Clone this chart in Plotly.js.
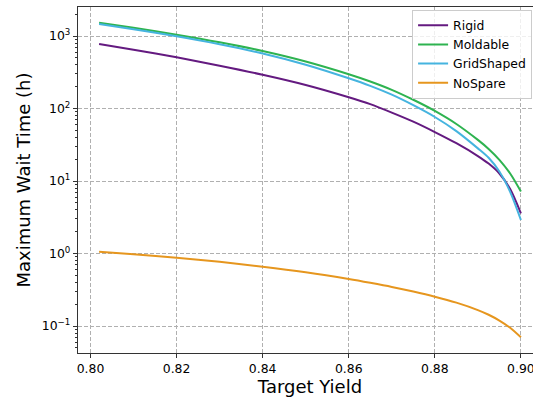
<!DOCTYPE html>
<html>
<head>
<meta charset="utf-8">
<script src="https://cdn.plot.ly/plotly-3.0.1.min.js"></script>
<style>
html,body{margin:0;padding:0;overflow:hidden;background:#fff;}
#chart{width:545px;height:398px;}
</style>
</head>
<body>
<div id="chart"></div>
<script>
const targetYield = [0.802, 0.81, 0.82, 0.83, 0.84, 0.85, 0.86, 0.865, 0.87, 0.875, 0.88, 0.885, 0.89, 0.8925, 0.895, 0.8975, 0.9];
const rigid      = [776, 647, 508, 389, 292, 211, 143, 115, 87.9, 65.9, 47.4, 33.2, 22.1, 17.4, 12.7, 7.76, 3.58];
const moldable   = [1524, 1297, 1042, 818, 621, 445, 297, 236, 181, 132, 92.7, 61.2, 36.9, 27.7, 19.6, 12.7, 7.16];
const gridShaped = [1466, 1242, 991, 769, 574, 402, 261, 205, 155, 111, 76.4, 48.8, 28.2, 20.9, 13.5, 7.10, 2.90];
const noSpare    = [1.059, 0.977, 0.875, 0.767, 0.658, 0.551, 0.445, 0.394, 0.346, 0.299, 0.254, 0.210, 0.166, 0.143, 0.119, 0.0946, 0.0698];

const seriesNames = ['Rigid', 'Moldable', 'GridShaped', 'NoSpare'];
const seriesColors = ['#641a80', '#2eb350', '#45b4df', '#e6961e'];
const seriesValues = [rigid, moldable, gridShaped, noSpare];

const xTickVals = [0.80, 0.82, 0.84, 0.86, 0.88, 0.90];
const xTickText = ['0.80', '0.82', '0.84', '0.86', '0.88', '0.90'];
const yTickVals = [0.1, 1, 10, 100, 1000];
const yTickText = ['10<sup>\u22121</sup>', '10<sup>0</sup>', '10<sup>1</sup>', '10<sup>2</sup>', '10<sup>3</sup>'];

const traces = seriesNames.map((n, i) => ({
  x: targetYield, y: seriesValues[i], name: n, type: 'scatter', mode: 'lines',
  line: {color: seriesColors[i], width: 2, shape: 'spline', smoothing: 0.8}
}));

const font = {family: 'DejaVu Sans, sans-serif', color: '#000'};
const layout = {
  width: 545, height: 398,
  margin: {l: 78, r: 3, t: 7, b: 45},
  paper_bgcolor: '#fff', plot_bgcolor: '#fff',
  font: Object.assign({size: 12.4}, font),
  showlegend: true,
  legend: {
    x: 0.72, xanchor: 'left', y: 0.992, yanchor: 'top',
    entrywidth: 86, entrywidthmode: 'pixels',
    bgcolor: 'rgba(255,255,255,0.8)', bordercolor: '#cccccc', borderwidth: 1,
    font: Object.assign({size: 12.4}, font)
  },
  xaxis: {
    range: [0.7971, 0.9049],
    tickvals: xTickVals, ticktext: xTickText,
    ticks: 'outside', ticklen: 4, tickcolor: '#333', tickwidth: 1,
    showline: true, mirror: true, linecolor: '#333', linewidth: 1.2,
    showgrid: true, gridcolor: '#b0b0b0', griddash: '4px,2px', gridwidth: 1,
    zeroline: false,
    tickfont: Object.assign({size: 12.4}, font),
    title: {text: 'Target Yield', font: Object.assign({size: 18}, font), standoff: 5}
  },
  yaxis: {
    type: 'log',
    range: [-1.372, 3.4],
    tickvals: yTickVals, ticktext: yTickText,
    ticks: 'outside', ticklen: 4, tickcolor: '#333', tickwidth: 1,
    minor: {ticks: 'outside', ticklen: 2, tickcolor: '#333', dtick: 'D1', showgrid: false},
    showline: true, mirror: true, linecolor: '#333', linewidth: 1.2,
    showgrid: true, gridcolor: '#b0b0b0', griddash: '4px,2px', gridwidth: 1,
    zeroline: false,
    tickfont: Object.assign({size: 12.4}, font),
    title: {text: 'Maximum Wait Time (h)', font: Object.assign({size: 18}, font), standoff: 6}
  }
};

Plotly.newPlot('chart', traces, layout, {staticPlot: true, displayModeBar: false});
</script>
</body>
</html>
